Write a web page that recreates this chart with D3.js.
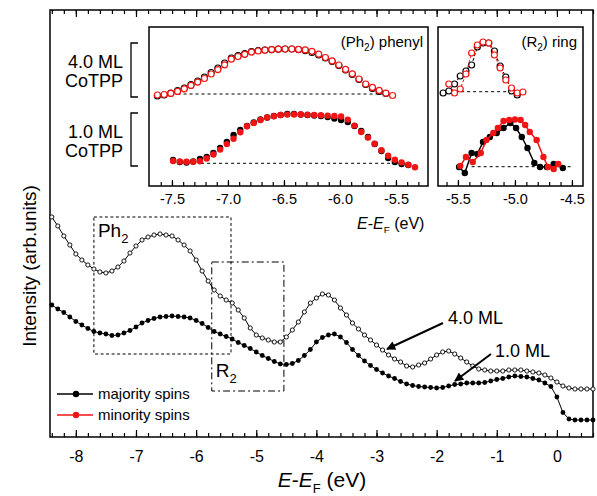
<!DOCTYPE html>
<html>
<head>
<meta charset="utf-8">
<script src="https://d3js.org/d3.v7.min.js"></script>
<style>
  body { margin: 0; background: #fff; }
  svg text { font-family: "Liberation Sans", Arial, Helvetica, sans-serif; fill: #000; }
</style>
</head>
<body>
<div id="chart"></div>
<script>
// ---- main spectra, 0.1 eV steps from -8.4 to 0.6 eV (arb. units) ----
const energy = d3.range(-84, 7).map(d => d / 10);
const ml40 = [220,211,201,192,183,177,172,168,165,164,
              166,170,176,184,191,197,200,202,203,202,
              201,197,192,186,177,166,156,147,141,137,
              134,127,119,109,102,99,97,95,95,100,
              107,115,125,134,139,143,142,137,129,122,
              114,108,102,97,92,87,82,78,75,71,
              70,72,74,78,82,85,86,83,79,75,
              71,68,67,66,66,66,67,67,67,66,
              65,64,62,59,55,51,49,48,48,48,48];
const ml10 = [132,128,124.5,120,115.5,112,108.5,105.5,104,103,
              101.5,102,104,106.5,110,114,116.5,118.5,120,120.5,
              121,120.5,120,119,116.5,113.5,109.5,105.5,103,100.5,
              98,94.5,91.5,88.5,85,81.5,78.5,75.5,73,72.5,
              73.5,76.5,81.5,87.5,95,99.5,102,103,100,94.5,
              87.5,81.5,76,71.5,67.5,64,61,58.5,55.5,53,
              51.5,50.5,50,49.5,49,49.5,51,52.5,53,54,
              54,54,54.5,56,57.5,58.5,60,61,60.5,60,
              58.5,57,54,50.5,40,24.5,18,17,17,17,17];

// ---- (Ph2) phenyl inset ----
const phE40 = d3.range(36).map(i => -7.63 + 0.06 * i);
const ph40Red = [91,91.5,92.6,94.6,97.2,100.6,103.9,107.5,112,116.4,121.2,126.8,129.5,131.7,133.9,135,135.8,136.4,
                 136.9,137,137,136.6,136.1,134.7,131.8,128.5,125.1,121,116.6,112.2,107,102,98.6,95.6,92.8,90.5];
const ph40Black = [90,91,93,95.5,98,101.5,105,109,113.5,118,123,128,130.5,132.5,134.5,135.5,136,136.4,
                   136.8,137,137,136.4,135.4,133.5,131,128,124.5,120.5,116,111.5,106.5,101.5,97.5,94.5,92.5];
const phE10 = d3.range(37).map(i => -7.49 + 0.06 * i);
const ph10Red = [25,24.6,24.3,24.3,24.8,27.5,31.5,36.4,41.9,47.3,53.7,59.8,63.1,66,68.5,69.8,71,71.4,71.6,
                 71.5,71.2,71,70.7,70.4,70,69.5,66.4,60.4,54,48.4,42.2,35.7,30.2,26.3,23.6,21.2,18.8];
const ph10Black = [26,24,23.5,24.5,27,29,33,38,44,51,56,60,63.5,66.5,68.5,70,71,72,72,
                   71.5,71,70.5,70,69,67.5,66,64,60,55,49,42,35,28,24,22,21];
const phBase = [{lvl: 92, from: -7.45, to: -5.62}, {lvl: 22.7, from: -7.24, to: -5.52}];

// ---- (R2) ring inset ----
const rE40Black = [-5.63,-5.58,-5.53,-5.48,-5.43,-5.38,-5.33,-5.28,-5.23,-5.18,-5.13,-5.08,-5.03,-4.98];
const r40Black  = [93,95,102,110,115,121,139,143,143,135,120,109,95,91];
const rE40Red   = [-5.58,-5.53,-5.48,-5.43,-5.38,-5.33,-5.28,-5.23,-5.18,-5.13,-5.08,-5.03,-4.98,-4.93];
const r40Red    = [102,93,97,112,133,141,144,143,131,118,106,98,93,94];
const rE10Black = [-5.49,-5.44,-5.38,-5.33,-5.28,-5.22,-5.16,-5.10,-5.04,-4.99,-4.94,-4.89,-4.83,-4.78,-4.72,-4.66,-4.58];
const r10Black  = [19,13,33,32,44,49,53,58,63,58,49,38,23,19,19,22,18];
const rE10Red   = [-5.48,-5.43,-5.37,-5.30,-5.25,-5.19,-5.15,-5.10,-5.05,-5.00,-4.95,-4.91,-4.87,-4.81,-4.75,-4.71,-4.66,-4.62];
const r10Red    = [20,29,24,33,46,53,58,65,66,66.5,66,61,54,46,29,19,17,22];
const rBase = [{lvl: 94.3, from: -5.63, to: -4.96}, {lvl: 19.3, from: -5.38, to: -4.49}];

// ---- annotation boxes (eV, intensity) ----
const phBox = [-7.70, -5.42, 83, 220];
const rBox  = [-5.74, -4.54, 46, 175];

const red = "#f01414";
const W = 597, H = 496;
const svg = d3.select("#chart").append("svg").attr("width", W).attr("height", H);

// main panel
const main = {left: 50, right: 593, top: 10, bottom: 437};
const x = d3.scaleLinear().domain([-8.43, 0.6]).range([main.left, main.right]);
const y = d3.scaleLinear().domain([0, 427]).range([main.bottom, main.top]);

function ticks(g, axis) {
  g.call(axis);
  g.select(".domain").remove();
  g.selectAll("line").attr("stroke", "#000").attr("stroke-width", 1.2);
}

const minorMain = d3.range(-84, 7, 2).map(d => d / 10);
const majorMain = d3.range(-8, 1);
svg.append("g").attr("transform", `translate(0,${main.bottom})`)
  .call(ticks, d3.axisBottom(x).tickValues(minorMain).tickSize(-4).tickSizeOuter(0).tickFormat(""));
svg.append("g").attr("transform", `translate(0,${main.bottom})`)
  .call(ticks, d3.axisBottom(x).tickValues(majorMain).tickSize(-7).tickSizeOuter(0).tickPadding(14).tickFormat(d => String(d)))
  .attr("font-size", 16).attr("font-family", null);
svg.append("g").attr("transform", `translate(0,${main.top})`)
  .call(ticks, d3.axisTop(x).tickValues(minorMain).tickSize(-4).tickSizeOuter(0).tickFormat(""));
svg.append("g").attr("transform", `translate(0,${main.top})`)
  .call(ticks, d3.axisTop(x).tickValues(majorMain).tickSize(-7).tickSizeOuter(0).tickFormat(""));

svg.append("rect")
  .attr("x", main.left).attr("y", main.top)
  .attr("width", main.right - main.left).attr("height", main.bottom - main.top)
  .attr("fill", "none").attr("stroke", "#000").attr("stroke-width", 1.5);

// E-EF label helper
function eLabel(t, size) {
  t.attr("font-size", size);
  t.append("tspan").attr("font-style", "italic").text("E");
  t.append("tspan").text("-");
  t.append("tspan").attr("font-style", "italic").text("E");
  t.append("tspan").attr("font-size", size * 0.62).attr("dy", size * 0.28).text("F");
  t.append("tspan").attr("dy", -size * 0.28).text(" (eV)");
}

svg.append("text").attr("x", 322).attr("y", 487).attr("text-anchor", "middle").call(eLabel, 21);
svg.append("text")
  .attr("transform", "translate(36,266) rotate(-90)")
  .attr("text-anchor", "middle").attr("font-size", 19)
  .text("Intensity (arb.units)");

// boxes
svg.append("rect")
  .attr("x", x(phBox[0])).attr("y", y(phBox[3]))
  .attr("width", x(phBox[1]) - x(phBox[0])).attr("height", y(phBox[2]) - y(phBox[3]))
  .attr("fill", "none").attr("stroke", "#000").attr("stroke-width", 1).attr("stroke-dasharray", "3,2.5");
svg.append("rect")
  .attr("x", x(rBox[0])).attr("y", y(rBox[3]))
  .attr("width", x(rBox[1]) - x(rBox[0])).attr("height", y(rBox[2]) - y(rBox[3]))
  .attr("fill", "none").attr("stroke", "#000").attr("stroke-width", 1).attr("stroke-dasharray", "7,3,2,3");

const ph = svg.append("text").attr("x", x(phBox[0]) + 4).attr("y", 237).attr("font-size", 19);
ph.append("tspan").text("Ph");
ph.append("tspan").attr("font-size", 13).attr("dy", 6).text("2");
const rl = svg.append("text").attr("x", x(rBox[0]) + 4).attr("y", 377).attr("font-size", 19);
rl.append("tspan").text("R");
rl.append("tspan").attr("font-size", 13).attr("dy", 6).text("2");

// spectra (only as many points as there are readings)
function series(g, xs, ys, E, I, o) {
  const pts = I.map((v, i) => [E[i], v]);
  if (o.line) {
    g.append("path").datum(pts)
      .attr("fill", "none").attr("stroke", o.color).attr("stroke-width", o.lw || 1)
      .attr("stroke-dasharray", o.dash || null)
      .attr("d", d3.line().x(d => xs(d[0])).y(d => ys(d[1])));
  }
  g.append("g").selectAll("circle").data(pts).join("circle")
    .attr("cx", d => xs(d[0])).attr("cy", d => ys(d[1])).attr("r", o.r)
    .attr("fill", o.open ? "#fff" : o.color)
    .attr("stroke", o.color).attr("stroke-width", o.open ? (o.sw || 0.9) : 0);
}

series(svg, x, y, energy, ml40, {color: "#000", open: true, r: 2.1, line: true, lw: 1});
series(svg, x, y, energy, ml10, {color: "#000", open: false, r: 2.4, line: true, lw: 1});

// arrows
const defs = svg.append("defs");
defs.append("marker").attr("id", "head").attr("viewBox", "0 0 10 10")
  .attr("refX", 9).attr("refY", 5).attr("markerWidth", 10).attr("markerHeight", 9)
  .attr("markerUnits", "userSpaceOnUse").attr("orient", "auto")
  .append("path").attr("d", "M0,0 L10,5 L0,10 Z").attr("fill", "#000");
const arrows = [
  {label: "4.0 ML", tx: 448, ty: 324, from: [443, 323], to: [387, 349]},
  {label: "1.0 ML", tx: 495, ty: 357, from: [491, 354], to: [455, 381]}
];
arrows.forEach(a => {
  svg.append("line").attr("x1", a.from[0]).attr("y1", a.from[1]).attr("x2", a.to[0]).attr("y2", a.to[1])
    .attr("stroke", "#000").attr("stroke-width", 2).attr("marker-end", "url(#head)");
  svg.append("text").attr("x", a.tx).attr("y", a.ty).attr("font-size", 18).text(a.label);
});

// legend
const legend = [{name: "majority spins", color: "#000"}, {name: "minority spins", color: red}];
legend.forEach((d, i) => {
  const ly = 394 + i * 21;
  svg.append("line").attr("x1", 57).attr("x2", 93).attr("y1", ly).attr("y2", ly)
    .attr("stroke", d.color).attr("stroke-width", 1.5);
  svg.append("circle").attr("cx", 76).attr("cy", ly).attr("r", 3.2).attr("fill", d.color);
  svg.append("text").attr("x", 98).attr("y", ly).attr("dy", "0.35em").attr("font-size", 15).text(d.name);
});

// ---- insets ----
const yi = d3.scaleLinear().domain([0, 159]).range([186, 27]);
const xi1 = d3.scaleLinear().domain([-7.705, -5.214]).range([149, 428]);
const xi2 = d3.scaleLinear().domain([-5.675, -4.403]).range([438, 583]);

function insetFrame(xs, minor, major) {
  const [x0, x1] = xs.range();
  svg.append("rect").attr("x", x0).attr("y", 27).attr("width", x1 - x0).attr("height", 159)
    .attr("fill", "#fff").attr("stroke", "#000").attr("stroke-width", 1.5);
  svg.append("g").attr("transform", "translate(0,186)")
    .call(ticks, d3.axisBottom(xs).tickValues(minor).tickSize(-4).tickSizeOuter(0).tickFormat(""));
  svg.append("g").attr("transform", "translate(0,186)")
    .call(ticks, d3.axisBottom(xs).tickValues(major).tickSize(-6).tickSizeOuter(0).tickPadding(8).tickFormat(d => d.toFixed(1)))
    .attr("font-size", 14.5).attr("font-family", null);
}
insetFrame(xi1, d3.range(-76, -52).map(d => d / 10), [-7.5, -7.0, -6.5, -6.0, -5.5]);
insetFrame(xi2, d3.range(-56, -44).map(d => d / 10), [-5.5, -5.0, -4.5]);

function baselines(xs, list) {
  list.forEach(b => svg.append("line")
    .attr("x1", xs(b.from)).attr("x2", xs(b.to)).attr("y1", yi(b.lvl)).attr("y2", yi(b.lvl))
    .attr("stroke", "#000").attr("stroke-width", 1).attr("stroke-dasharray", "3,3"));
}
baselines(xi1, phBase);
baselines(xi2, rBase);

series(svg, xi1, yi, phE40, ph40Black, {color: "#000", open: true, r: 3, sw: 1.2});
series(svg, xi1, yi, phE40, ph40Red, {color: red, open: true, r: 3, sw: 1.2});
series(svg, xi1, yi, phE10, ph10Black, {color: "#000", open: false, r: 3.2});
series(svg, xi1, yi, phE10, ph10Red, {color: red, open: false, r: 3.2});

series(svg, xi2, yi, rE40Black, r40Black, {color: "#000", open: true, r: 3, sw: 1.2, line: true, dash: "3,2"});
series(svg, xi2, yi, rE40Red, r40Red, {color: red, open: true, r: 3, sw: 1.2, line: true, dash: "3,2"});
series(svg, xi2, yi, rE10Black, r10Black, {color: "#000", open: false, r: 3.2, line: true, lw: 1.5});
series(svg, xi2, yi, rE10Red, r10Red, {color: red, open: false, r: 3.2, line: true, lw: 1.5});

// inset titles
const t1 = svg.append("text").attr("x", 423).attr("y", 47).attr("text-anchor", "end").attr("font-size", 15);
t1.append("tspan").text("(Ph");
t1.append("tspan").attr("font-size", 10).attr("dy", 4).text("2");
t1.append("tspan").attr("dy", -4).text(") phenyl");
const t2 = svg.append("text").attr("x", 577).attr("y", 47).attr("text-anchor", "end").attr("font-size", 15);
t2.append("tspan").text("(R");
t2.append("tspan").attr("font-size", 10).attr("dy", 4).text("2");
t2.append("tspan").attr("dy", -4).text(") ring");

svg.append("text").attr("x", 357).attr("y", 229).call(eLabel, 16);

// coverage labels with brackets
const cov = [{ml: "4.0 ML", y0: 43, y1: 97, b1: 68}, {ml: "1.0 ML", y0: 113, y1: 166, b1: 138}];
cov.forEach(c => {
  svg.append("text").attr("x", 123).attr("y", c.b1).attr("text-anchor", "end").attr("font-size", 18).text(c.ml);
  svg.append("text").attr("x", 123).attr("y", c.b1 + 19).attr("text-anchor", "end").attr("font-size", 18).text("CoTPP");
  svg.append("path").attr("d", `M138,${c.y0}H131V${c.y1}H138`)
    .attr("fill", "none").attr("stroke", "#000").attr("stroke-width", 1.3);
});
</script>
</body>
</html>
